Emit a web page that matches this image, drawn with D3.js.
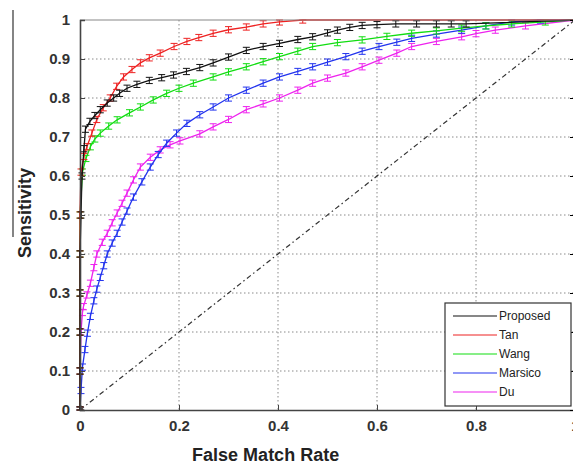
<!DOCTYPE html>
<html>
<head>
<meta charset="utf-8">
<script src="https://cdn.jsdelivr.net/npm/d3@7"></script>
<style>
  body { margin: 0; background: #fff; }
  svg { display: block; font-family: "Liberation Sans", Arial, sans-serif; }
</style>
</head>
<body>
<div id="chart"></div>
<script>
// ROC curves, false match rate vs sensitivity
let seriesNames = ["Proposed", "Tan", "Wang", "Marsico", "Du"];
let seriesColors = ["#111111", "#ee2222", "#11dd11", "#2233ee", "#ee22ee"];

let proposedFpr = [0, 0, 0, 0, 0, 0.002, 0.004, 0.008, 0.011, 0.02, 0.03, 0.041, 0.055, 0.068, 0.08, 0.095, 0.115, 0.14, 0.165, 0.189, 0.215, 0.242, 0.269, 0.3, 0.336, 0.37, 0.403, 0.44, 0.47, 0.5, 0.52, 0.545, 0.57, 0.6, 0.638, 0.68, 0.72, 0.75, 0.78, 1];
let proposedTpr = [0, 0.1, 0.2, 0.3, 0.4, 0.5, 0.6, 0.67, 0.72, 0.74, 0.755, 0.77, 0.787, 0.8, 0.812, 0.825, 0.835, 0.845, 0.852, 0.859, 0.868, 0.878, 0.89, 0.905, 0.922, 0.932, 0.94, 0.95, 0.957, 0.967, 0.974, 0.981, 0.986, 0.988, 0.99, 0.99, 0.99, 0.99, 0.99, 1];

let tanFpr = [0, 0, 0, 0, 0, 0, 0.002, 0.008, 0.014, 0.024, 0.034, 0.047, 0.061, 0.074, 0.088, 0.105, 0.122, 0.14, 0.162, 0.19, 0.216, 0.24, 0.269, 0.3, 0.336, 0.37, 0.403, 0.45, 1];
let tanTpr = [0, 0.1, 0.2, 0.3, 0.4, 0.5, 0.61, 0.65, 0.675, 0.71, 0.745, 0.775, 0.8, 0.83, 0.854, 0.873, 0.89, 0.903, 0.915, 0.932, 0.945, 0.955, 0.966, 0.975, 0.982, 0.99, 0.995, 1, 1];

let wangFpr = [0, 0, 0, 0, 0, 0, 0.005, 0.012, 0.021, 0.03, 0.041, 0.058, 0.075, 0.1, 0.122, 0.148, 0.175, 0.2, 0.229, 0.269, 0.3, 0.336, 0.37, 0.403, 0.44, 0.47, 0.52, 0.57, 0.62, 0.67, 0.72, 0.771, 0.82, 0.872, 0.94, 1];
let wangTpr = [0, 0.1, 0.2, 0.3, 0.4, 0.5, 0.61, 0.645, 0.675, 0.695, 0.71, 0.728, 0.744, 0.762, 0.777, 0.795, 0.812, 0.825, 0.838, 0.854, 0.867, 0.88, 0.893, 0.906, 0.92, 0.932, 0.942, 0.949, 0.958, 0.966, 0.972, 0.979, 0.985, 0.99, 0.995, 1];

let marsicoFpr = [0, 0.002, 0.005, 0.01, 0.015, 0.021, 0.028, 0.034, 0.041, 0.048, 0.055, 0.065, 0.075, 0.085, 0.095, 0.108, 0.125, 0.142, 0.158, 0.175, 0.195, 0.216, 0.242, 0.269, 0.3, 0.336, 0.37, 0.403, 0.44, 0.47, 0.5, 0.537, 0.57, 0.604, 0.64, 0.67, 0.72, 0.771, 0.82, 0.872, 0.93, 1];
let marsicoTpr = [0, 0.05, 0.11, 0.155, 0.197, 0.24, 0.28, 0.31, 0.34, 0.37, 0.4, 0.428, 0.453, 0.482, 0.51, 0.546, 0.585, 0.623, 0.655, 0.684, 0.71, 0.735, 0.757, 0.777, 0.8, 0.82, 0.838, 0.854, 0.868, 0.88, 0.892, 0.906, 0.92, 0.932, 0.943, 0.953, 0.964, 0.974, 0.985, 0.995, 1, 1];

let duFpr = [0, 0, 0.002, 0.005, 0.007, 0.014, 0.021, 0.028, 0.034, 0.045, 0.055, 0.065, 0.075, 0.085, 0.095, 0.108, 0.122, 0.142, 0.162, 0.182, 0.202, 0.242, 0.269, 0.3, 0.336, 0.37, 0.403, 0.44, 0.47, 0.5, 0.537, 0.57, 0.604, 0.64, 0.67, 0.72, 0.771, 0.8, 0.839, 0.9, 1];
let duTpr = [0, 0.1, 0.2, 0.25, 0.265, 0.295, 0.325, 0.365, 0.4, 0.43, 0.453, 0.48, 0.505, 0.53, 0.556, 0.59, 0.623, 0.648, 0.667, 0.68, 0.69, 0.708, 0.726, 0.745, 0.77, 0.785, 0.8, 0.82, 0.838, 0.851, 0.864, 0.88, 0.897, 0.915, 0.932, 0.945, 0.957, 0.965, 0.974, 0.985, 1];

let errHalf = 0.008; // half height of the error bars

let xTicks = [0, 0.2, 0.4, 0.6, 0.8, 1];
let yTicks = [0, 0.1, 0.2, 0.3, 0.4, 0.5, 0.6, 0.7, 0.8, 0.9, 1];

let allFpr = [proposedFpr, tanFpr, wangFpr, marsicoFpr, duFpr];
let allTpr = [proposedTpr, tanTpr, wangTpr, marsicoTpr, duTpr];

let series = seriesNames.map((name, i) => ({
    name: name,
    color: seriesColors[i],
    points: allFpr[i].map((f, j) => ({x: f, y: allTpr[i][j]}))
}));

let width = 573, height = 466;
let margin = {top: 20, right: -2, bottom: 56, left: 80};
let plotW = width - margin.left - margin.right;
let plotH = height - margin.top - margin.bottom;

let svg = d3.select("#chart").append("svg")
    .attr("width", width)
    .attr("height", height);

let x = d3.scaleLinear().domain([0, 1]).range([0, plotW]);
let y = d3.scaleLinear().domain([0, 1]).range([plotH, 0]);

let plot = svg.append("g")
    .attr("transform", `translate(${margin.left},${margin.top})`);

// dotted grid
plot.append("g")
    .selectAll("line")
    .data(xTicks.filter(t => t > 0 && t < 1))
    .enter().append("line")
    .attr("x1", d => x(d)).attr("x2", d => x(d))
    .attr("y1", 0).attr("y2", plotH)
    .attr("stroke", "#8a8a8a")
    .attr("stroke-width", 1)
    .attr("stroke-dasharray", "1.5,2.5");

plot.append("g")
    .selectAll("line")
    .data(yTicks.filter(t => t > 0 && t < 1))
    .enter().append("line")
    .attr("x1", 0).attr("x2", plotW)
    .attr("y1", d => y(d)).attr("y2", d => y(d))
    .attr("stroke", "#8a8a8a")
    .attr("stroke-width", 1)
    .attr("stroke-dasharray", "1.5,2.5");

// chance diagonal
plot.append("line")
    .attr("x1", x(0)).attr("y1", y(0))
    .attr("x2", x(1)).attr("y2", y(1))
    .attr("stroke", "#333")
    .attr("stroke-width", 1.2)
    .attr("stroke-dasharray", "5,3,1.5,3");

// curves
let line = d3.line()
    .x(d => x(d.x))
    .y(d => y(d.y));

let curves = plot.append("g")
    .selectAll(".curve")
    .data(series.slice().reverse())
    .enter().append("g")
    .attr("class", "curve");

curves.append("path")
    .attr("d", d => line(d.points))
    .attr("fill", "none")
    .attr("stroke", d => d.color)
    .attr("stroke-width", 1.3);

// error bars ("I" shapes) on every point
curves.each(function (s) {
    let g = d3.select(this);
    g.selectAll(".err")
        .data(s.points.filter(p => p.x < 1))
        .enter().append("path")
        .attr("class", "err")
        .attr("d", p => {
            let cx = x(p.x);
            let y0 = y(Math.max(0, p.y - errHalf));
            let y1 = y(Math.min(1, p.y + errHalf));
            return `M${cx},${y0}V${y1}M${cx - 3.5},${y0}H${cx + 3.5}M${cx - 3.5},${y1}H${cx + 3.5}`;
        })
        .attr("fill", "none")
        .attr("stroke", s.color)
        .attr("stroke-width", 1);
});

// frame
plot.append("line")
    .attr("x1", 0).attr("x2", plotW).attr("y1", 0).attr("y2", 0)
    .attr("stroke", "#888").attr("stroke-width", 1.2);

let fmt = d => d === 0 || d === 1 ? d3.format("d")(d) : d3.format(".1f")(d);

let xAxis = plot.append("g")
    .attr("transform", `translate(0,${plotH})`)
    .call(d3.axisBottom(x).tickValues(xTicks).tickSize(-5).tickPadding(10).tickFormat(fmt));

let yAxis = plot.append("g")
    .call(d3.axisLeft(y).tickValues(yTicks).tickSize(-5).tickPadding(10).tickFormat(fmt));

// right side ticks
plot.append("g")
    .attr("transform", `translate(${plotW},0)`)
    .call(d3.axisRight(y).tickValues(yTicks).tickSize(-5).tickFormat(""))
    .select(".domain").remove();

[xAxis, yAxis].forEach(a => {
    a.select(".domain").attr("stroke", "#444").attr("stroke-width", 1.6);
    a.selectAll(".tick line").attr("stroke", "#444");
    a.selectAll(".tick text")
        .attr("fill", "#333")
        .attr("font-size", 15)
        .attr("font-weight", "bold")
        .attr("font-family", "'Liberation Sans', Arial, sans-serif");
});

// axis titles
svg.append("text")
    .attr("x", margin.left + x(0.375))
    .attr("y", 461)
    .attr("text-anchor", "middle")
    .attr("font-size", 18)
    .attr("font-weight", "bold")
    .attr("fill", "#222")
    .text("False Match Rate");

svg.append("text")
    .attr("transform", "translate(31,213) rotate(-90)")
    .attr("text-anchor", "middle")
    .attr("font-size", 18)
    .attr("font-weight", "bold")
    .attr("fill", "#222")
    .text("Sensitivity");

// stray rule at far left in the original scan
svg.append("line")
    .attr("x1", 13).attr("x2", 13)
    .attr("y1", 10).attr("y2", 237)
    .attr("stroke", "#333").attr("stroke-width", 1.2);

// legend
let legend = svg.append("g")
    .attr("transform", "translate(445,303)");

legend.append("rect")
    .attr("width", 126).attr("height", 103)
    .attr("fill", "#fff")
    .attr("stroke", "#333")
    .attr("stroke-width", 1.2);

let items = legend.selectAll(".item")
    .data(series)
    .enter().append("g")
    .attr("class", "item")
    .attr("transform", (d, i) => `translate(0,${13 + i * 19})`);

items.append("line")
    .attr("x1", 8).attr("x2", 52)
    .attr("stroke", d => d.color)
    .attr("stroke-width", 1.2);

items.append("text")
    .attr("x", 54)
    .attr("y", 4)
    .attr("font-size", 12)
    .attr("fill", "#222")
    .text(d => d.name);
</script>
</body>
</html>
